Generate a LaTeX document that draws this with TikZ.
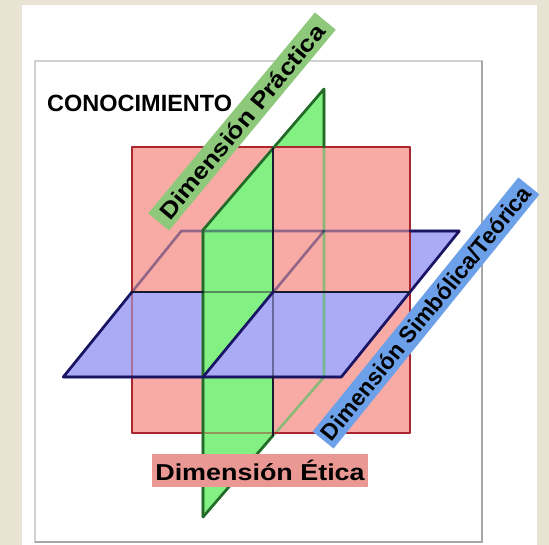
\documentclass[tikz,border=0pt]{standalone}
\usepackage{fontspec}
\setmainfont{Liberation Sans}
\begin{document}
\definecolor{beige}{RGB}{233,227,211}
\definecolor{redfill}{RGB}{248,170,165}
\definecolor{redline}{RGB}{170,40,45}
\definecolor{greenfill}{RGB}{130,240,130}
\definecolor{greenline}{RGB}{35,105,40}
\definecolor{greenfaint}{RGB}{90,190,100}
\definecolor{bluefill}{RGB}{170,170,246}
\definecolor{blueline}{RGB}{25,20,100}
\definecolor{darkline}{RGB}{25,25,45}
\definecolor{lblgreen}{RGB}{142,200,122}
\definecolor{lblblue}{RGB}{108,160,232}
\definecolor{lblred}{RGB}{234,152,148}
\begin{tikzpicture}[x=1pt,y=-1pt,
  edge/.style={line width=2.6pt,line join=round,line cap=round},
  faint/.style={edge,opacity=0.45},
  lbl/.style={inner sep=0pt,font=\fontsize{23}{23}\selectfont\bfseries,text=black},
  pad/.style={inner sep=0pt,font=\fontsize{23}{23}\selectfont\bfseries}]
\useasboundingbox (0,0) rectangle (549,545);
\fill[beige] (0,0) rectangle (549,545);
\fill[white] (22,5) rectangle (537,545);
\draw[black!18,line width=1.2pt] (35,61) rectangle (482,542);
\draw[black!35,line width=2pt] (482,61) -- (482,542) -- (35,542);
% coordinates
\coordinate (R1) at (132,147); \coordinate (R2) at (410,147);
\coordinate (R3) at (410,433); \coordinate (R4) at (132,433);
\coordinate (Bfl) at (63.3,377); \coordinate (Bfr) at (341.3,377);
\coordinate (Bbr) at (459.3,231); \coordinate (Bbl) at (181.3,231);
\coordinate (Bml) at (132,292); \coordinate (Bmr) at (410,292);
\coordinate (Gft) at (203,230); \coordinate (Gbt) at (324,89);
\coordinate (Gbb) at (324,377); \coordinate (Gfb) at (203,517);
\coordinate (Gmt) at (273,148.4); \coordinate (Gmb) at (273,435.4);
\coordinate (Gfd) at (203,377); \coordinate (Gbd) at (324,231);
\coordinate (Gmd) at (273,292);
% fills, back to front
\fill[greenfill] (Gmd) -- (Gbd) -- (Gbb) -- (Gmb) -- cycle;
\fill[bluefill] (Bml) -- (Bmr) -- (Bbr) -- (Bbl) -- cycle;
\fill[greenfill] (Gmt) -- (Gbt) -- (Gbd) -- (Gmd) -- cycle;
\fill[redfill] (R1) rectangle (R3);
\fill[greenfill] (Gfd) -- (Gmd) -- (Gmb) -- (Gfb) -- cycle;
\fill[bluefill] (Bfl) -- (Bfr) -- (Bmr) -- (Bml) -- cycle;
\fill[greenfill] (Gft) -- (Gmt) -- (Gmd) -- (Gfd) -- cycle;
% faint see-through edges
\draw[faint,redline] (R1) rectangle (R3);
\draw[faint,greenfaint,opacity=0.7] (Gft) -- (Gbt) -- (Gbb) -- (Gfb) -- cycle;
\draw[faint,blueline] (Bfl) -- (Bfr) -- (Bbr) -- (Bbl) -- cycle;
\draw[faint,darkline] (Bml) -- (Bmr);
\draw[faint,darkline] (Gmt) -- (Gmb);
\draw[faint,blueline] (Gfd) -- (Gbd);
% visible edges
\draw[edge,redline] (132,377) -- (R4) -- (203,433);
\draw[edge,redline] (273,433) -- (R3) -- (R2) -- (R1) -- (Bml);
\draw[edge,greenline] (Gfb) -- (Gft) -- (Gmt) -- (Gbt) -- (324,147);
\draw[edge,greenline] (Gfb) -- (Gmb);
\draw[edge,blueline] (Bml) -- (Bfl) -- (Bfr) -- (Bmr) -- (Bbr) -- (410,231);
\draw[edge,darkline] (Bml) -- (203,292);
\draw[edge,darkline] (Gmd) -- (Bmr);
\draw[edge,darkline] (Gmt) -- (Gmd);
\draw[edge,darkline] (273,377) -- (Gmb);
\draw[edge,blueline] (Gfd) -- (Gmd);
% labels
\node[lbl,anchor=base west] (con) at (47,112) {\fontsize{23.5}{23.5}\selectfont CONOCIMIENTO};
\node[pad,fill=lblgreen,rotate=50.3,minimum width=261pt,minimum height=27pt] (prac) at (242,121.5)
  {\scalebox{1.15}[1]{Dimensión Práctica}};
\node[pad,fill=lblblue,rotate=51,minimum width=327pt,minimum height=27pt] (simb) at (426,313)
  {\scalebox{1.0}[1]{Dimensión Simbólica/Teórica}};
\node[pad,fill=lblred,minimum width=216pt,minimum height=33pt] (etica) at (260,470.5)
  {\scalebox{1.17}[1]{Dimensión Ética}};
\end{tikzpicture}
\end{document}
